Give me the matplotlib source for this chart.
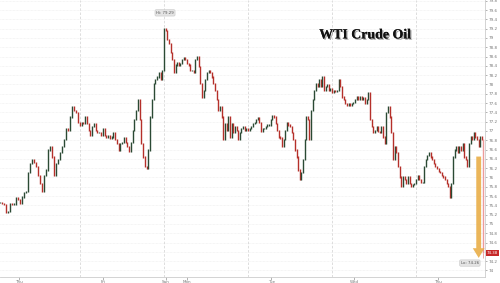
import numpy as np
import matplotlib
matplotlib.use("Agg")
import matplotlib.pyplot as plt
import matplotlib.patheffects as pe
from matplotlib.ticker import FuncFormatter, MultipleLocator
import matplotlib.transforms as mtransforms

# closes per trading session
thu1 = [75.47, 75.45, 75.41, 75.24, 75.26, 75.45, 75.43, 75.43, 75.56, 75.52,
        75.45, 75.58, 75.67, 75.69, 76.10, 76.31, 76.38, 76.33, 76.23, 76.05,
        75.88, 75.69, 76.05, 76.16, 76.59, 76.66, 76.44, 76.05, 76.31, 76.38,
        76.53, 76.66, 76.81, 77.06, 77.02, 77.30, 77.52, 77.45, 77.39, 77.19]
fri = [77.13, 77.19, 77.17, 77.30, 77.17, 77.02, 76.91, 77.09, 77.17, 77.02,
       76.96, 76.96, 76.91, 77.06, 76.91, 76.87, 76.91, 76.85, 76.87, 76.96,
       76.81, 76.74, 76.59, 76.74, 76.76, 76.85, 76.76, 76.66, 76.55, 76.76,
       77.02, 77.24, 77.45, 77.67, 77.24, 76.74, 76.44, 76.23, 76.20, 76.59,
       77.30, 77.67, 78.03, 78.10, 78.16, 78.25, 78.10, 78.31]
mon = [79.21, 79.17, 78.96, 78.89, 78.68, 78.53, 78.25, 78.42, 78.48, 78.42,
       78.46, 78.53, 78.57, 78.53, 78.46, 78.42, 78.31, 78.31, 78.25, 78.53,
       78.59, 78.38, 78.03, 77.73, 77.88, 78.10, 78.25, 78.31, 78.25, 78.16,
       78.03, 77.88, 77.67, 77.45, 77.52, 77.30, 76.81, 77.17, 77.02, 77.30,
       76.87, 77.17, 76.96, 77.09, 77.02, 76.81, 76.96, 77.06, 77.09, 77.02, 77.06]
tue = [77.02, 77.06, 77.09, 77.17, 77.19, 77.24, 77.28, 77.19, 76.98, 77.06,
       77.06, 77.09, 77.13, 77.13, 77.24, 77.34, 77.30, 77.17, 77.02, 76.87,
       76.85, 76.66, 76.81, 77.02, 77.19, 77.13, 77.09, 76.96, 76.81, 76.59,
       76.44, 76.16, 75.95, 76.10, 76.38, 76.81, 77.30, 77.24, 76.81, 77.45,
       77.67, 77.88, 78.03, 77.95, 78.10, 77.95, 78.16, 77.88, 77.95, 77.99,
       77.88, 77.92]
wed = [77.82, 77.88, 77.84, 77.88, 78.10, 77.95, 77.73, 77.67, 77.60, 77.56,
       77.60, 77.56, 77.60, 77.62, 77.67, 77.73, 77.67, 77.73, 77.67, 77.71,
       77.60, 77.67, 77.82, 77.24, 77.09, 76.96, 77.02, 77.09, 76.98, 76.96,
       77.09, 76.87, 76.74, 77.39, 77.52, 77.30, 76.96, 76.38, 76.66, 76.53,
       76.23, 76.01, 75.80, 76.01, 75.95, 75.88, 76.01, 75.88, 75.80, 75.84, 75.88]
thu2 = [75.95, 76.05, 75.95, 75.90, 75.90, 76.23, 76.38, 76.48, 76.53, 76.44,
        76.38, 76.31, 76.23, 76.20, 76.12, 76.10, 76.05, 76.01, 75.95, 75.88,
        75.80, 75.58, 75.88, 76.44, 76.59, 76.66, 76.53, 76.66, 76.59, 76.74,
        76.44, 76.38, 76.23, 76.74, 76.87, 76.81, 76.96, 76.87, 76.81, 76.66,
        76.87, 76.81, 74.38]

hi_price = 79.29
lo_price = 74.26
last_price = 74.38

day_labels = ['Thu', 'Fri', 'Sun', 'Mon', 'Tue', 'Wed', 'Thu']
day_ticks = [-0.726, 0.274, 1.024, 1.274, 2.274, 3.262, 4.262]

sessions = [thu1, fri, mon, tue, wed, thu2]
spans = [(-0.952, 0), (0, 1), (1, 2), (2, 3), (3, 4), (4, 4.80)]

RED = '#b5302a'
GREEN = '#2b4a34'

fig = plt.figure(figsize=(5, 2.83), dpi=100)
ax = fig.add_axes([0, 0.0212, 0.97, 0.9788])

xs = []
closes = []
for s, (a, b) in zip(sessions, spans):
    if s is thu2:
        xs.extend(np.linspace(a, b, len(s)))
    else:
        xs.extend(np.linspace(a, b, len(s), endpoint=False))
    closes.extend(s)
xs = np.array(xs)
closes = np.array(closes)
opens = np.r_[closes[0], closes[:-1]]

cols = [GREEN if c >= o else RED for o, c in zip(opens, closes)]
cols[-1] = '#ec9a9a'
lo = np.minimum(opens, closes) - 0.012
hi = np.maximum(opens, closes) + 0.012
ax.vlines(xs, lo, hi, colors=cols, lw=1.0, zorder=3)
# last bar wick down to the low
ax.vlines(xs[-1], lo_price, last_price, color='#ec9a9a', lw=0.6, zorder=3)

# grid
for v in np.arange(74, 79.81, 0.2):
    ax.axhline(v, color='#ececec', lw=0.5, ls=(0, (1, 1)), zorder=0)
for v in [0, 1, 2, 3, 4]:
    ax.axvline(v, color='#d8d8d8', lw=0.6, ls=(0, (3, 2)), zorder=0)

ax.set_xlim(-0.952, 4.82)
ax.set_ylim(73.86, 79.817)

for sp in ['top', 'left']:
    ax.spines[sp].set_visible(False)
for sp in ['right', 'bottom']:
    ax.spines[sp].set_color('#cccccc')
    ax.spines[sp].set_linewidth(0.6)


def ylab(v, p):
    v = round(v, 1)
    # the last-price tag sits on top of this label
    if abs(v - 74.4) < 0.05:
        return ''
    return '{:g}'.format(v)


ax.yaxis.tick_right()
ax.yaxis.set_major_locator(MultipleLocator(0.2))
ax.yaxis.set_major_formatter(FuncFormatter(ylab))
ax.tick_params(axis='y', labelsize=3, colors='#777777', length=1.5, width=0.4, pad=1.5)
ax.set_xticks(day_ticks)
ax.set_xticklabels(day_labels)
ax.tick_params(axis='x', labelsize=3, colors='#777777', length=2, width=0.4, pad=0.5)

# orange move arrow
ax.annotate('', xy=(4.745, lo_price + 0.01), xytext=(4.745, 76.45),
            arrowprops=dict(width=3.5, headwidth=8.5, headlength=7,
                            color='#e9ae48', alpha=0.9, lw=0), zorder=4)

box = dict(boxstyle='round,pad=0.3', fc='#e4e4e4', ec='#c8c8c8', lw=0.4)
ax.text(1.012, 79.54, 'Hi: {:.2f}'.format(hi_price), fontsize=2.8, color='#555555',
        ha='center', va='center', bbox=box, zorder=5)
ax.text(4.64, 74.16, 'Lo: {:.2f}'.format(lo_price), fontsize=2.8, color='#555555',
        ha='center', va='center', bbox=box, zorder=5)

trans = mtransforms.blended_transform_factory(ax.transAxes, ax.transData)
ax.text(1.004, last_price, '{:.2f}'.format(last_price), transform=trans, fontsize=2.8,
        color='white', ha='left', va='center', clip_on=False,
        bbox=dict(boxstyle='square,pad=0.3', fc='#c62828', ec='none'), zorder=6)

ax.text(0.753, 0.874, 'WTI Crude Oil', transform=ax.transAxes, fontsize=10,
        family='Liberation Serif', fontweight='bold', color='#111111',
        ha='center', va='center',
        path_effects=[pe.withSimplePatchShadow(offset=(1, -1), alpha=0.35), pe.Normal()])

fig.savefig('out.png', dpi=100)
